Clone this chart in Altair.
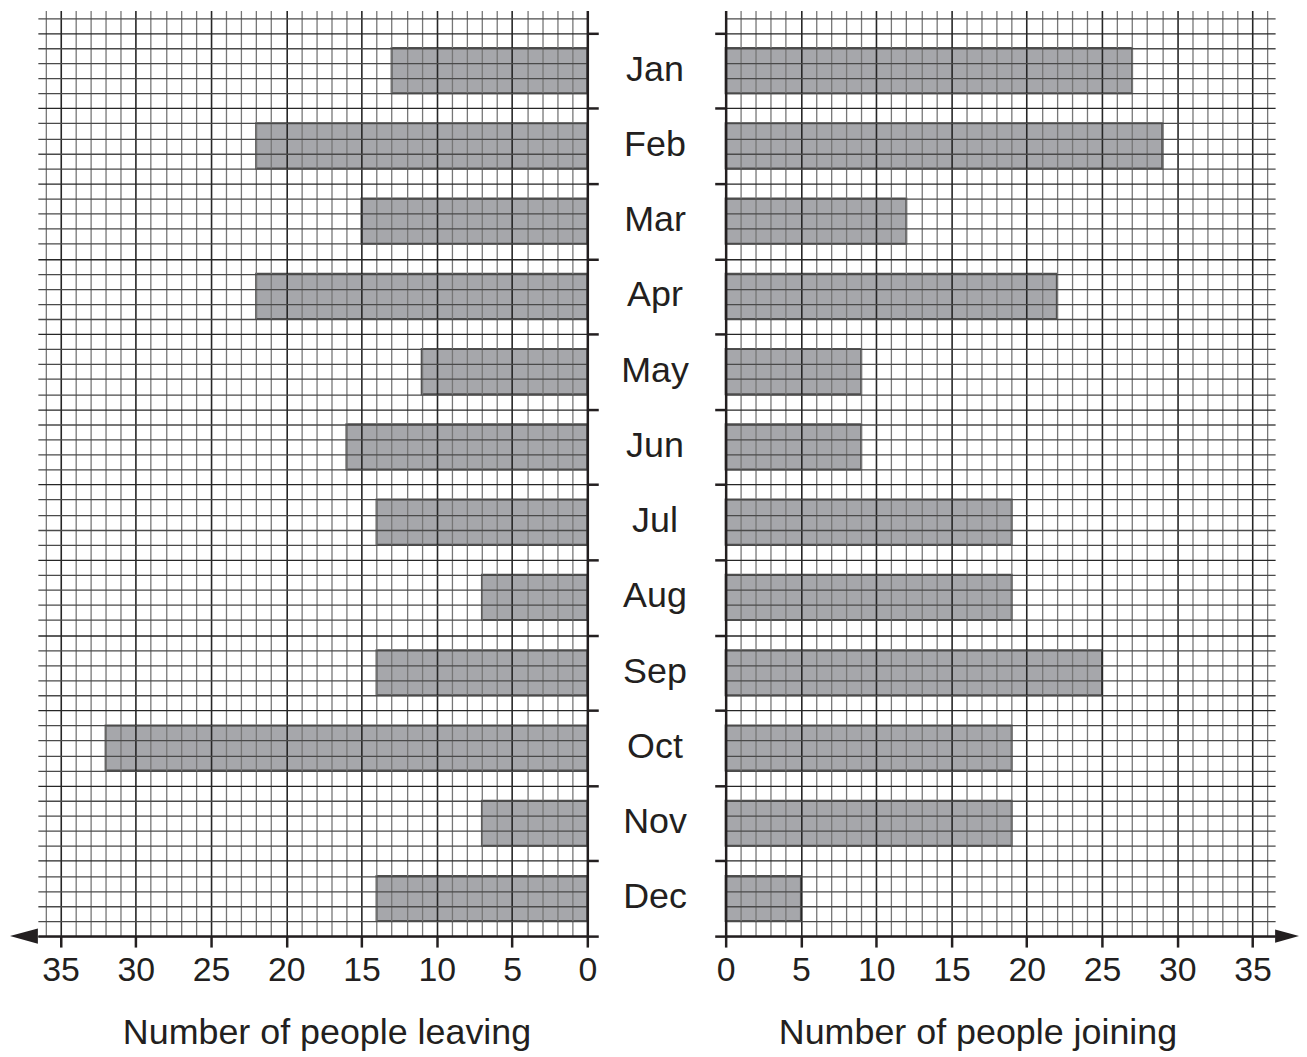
import altair as alt
import pandas as pd

months = ["Jan", "Feb", "Mar", "Apr", "May", "Jun", "Jul", "Aug", "Sep", "Oct", "Nov", "Dec"]
leaving = [13, 22, 15, 22, 11, 16, 14, 7, 14, 32, 7, 14]
joining = [27, 29, 12, 22, 9, 9, 19, 19, 25, 19, 19, 5]
x_ticks = [0, 5, 10, 15, 20, 25, 30, 35]

FONT = "Liberation Sans"
TXT = "#231f20"
W, H = 552, 930
X_MAX = 36.5
SUB = 5  # grid sub-rows per month

df = pd.DataFrame({
    "month": months,
    "idx": list(range(len(months))),
    "leaving": leaving,
    "joining": joining,
})

y_scale = alt.Scale(domain=[-1.5, SUB * len(months)], reverse=True, nice=False, zero=False)
x_grid_vals = list(range(0, 37))
y_grid_vals = list(range(-1, SUB * len(months) + 1))

is5 = "datum.value % 5 === 0"


def x_axis(title, title_x):
    return alt.Axis(
        values=x_grid_vals,
        grid=True,
        gridColor={"condition": {"test": is5, "value": "#262626"}, "value": "#767676"},
        gridWidth={"condition": {"test": is5, "value": 1.6}, "value": 1.3},
        tickSize={"condition": {"test": is5, "value": 11}, "value": 0},
        tickColor="#231f20",
        tickWidth=2.5,
        labelExpr="datum.value % 5 === 0 ? datum.label : ''",
        labelFont=FONT,
        labelFontSize=34,
        labelColor=TXT,
        labelPadding=7,
        labelOverlap=False,
        labelFlush=False,
        domainColor="#231f20",
        domainWidth=2.5,
        title=title,
        titleFont=FONT,
        titleFontSize=36,
        titleFontWeight="normal",
        titleColor=TXT,
        titleX=title_x,
        titleY=108,
        titleAlign="center",
        titleBaseline="alphabetic",
        zindex=1,
    )


def y_axis(orient):
    return alt.Axis(
        orient=orient,
        values=y_grid_vals,
        grid=True,
        gridColor={"condition": {"test": is5, "value": "#262626"}, "value": "#4a4a4a"},
        gridWidth=1.3,
        tickSize={"condition": {"test": is5, "value": 11}, "value": 0},
        tickColor="#231f20",
        tickWidth=2.5,
        labels=False,
        domainColor="#231f20",
        domainWidth=2.5,
        title=None,
        minExtent=0,
        zindex=1,
    )


base = alt.Chart(df).transform_calculate(
    y0=f"{SUB} * datum.idx + 1",
    y1=f"{SUB} * datum.idx + 4",
    yc=f"{SUB} * datum.idx + 2.5",
)

left_bars = base.mark_rect(fill="#a6a7ab", stroke="#505050", strokeWidth=2).encode(
    x=alt.X("leaving:Q", scale=alt.Scale(domain=[0, X_MAX], reverse=True, nice=False),
            axis=x_axis("Number of people leaving", 290)),
    x2=alt.datum(0),
    y=alt.Y("y0:Q", scale=y_scale, axis=y_axis("right")),
    y2="y1:Q",
)

labels = base.mark_text(font=FONT, fontSize=36, color=TXT, align="center", baseline="middle", dy=-1).encode(
    x=alt.value(620),
    y=alt.Y("yc:Q", scale=y_scale, axis=y_axis("right")),
    text="month:N",
)

one = pd.DataFrame({"k": [0]})
left_arrow = alt.Chart(one).mark_point(
    shape="M-1,0L1,-0.55L1,0.55Z", filled=True, size=784, color="#231f20", opacity=1, strokeWidth=0
).encode(x=alt.value(-14), y=alt.value(H))

right_arrow = alt.Chart(one).mark_point(
    shape="M1,0L-1,-0.55L-1,0.55Z", filled=True, size=576, color="#231f20", opacity=1, strokeWidth=0
).encode(x=alt.value(W + 12), y=alt.value(H))

left = alt.layer(left_bars, labels, left_arrow).properties(width=W, height=H)

right_bars = base.mark_rect(fill="#a6a7ab", stroke="#505050", strokeWidth=2).encode(
    x=alt.X("joining:Q", scale=alt.Scale(domain=[0, X_MAX], nice=False),
            axis=x_axis("Number of people joining", 253)),
    x2=alt.datum(0),
    y=alt.Y("y0:Q", scale=y_scale, axis=y_axis("left")),
    y2="y1:Q",
)

right = alt.layer(right_bars, right_arrow).properties(width=W, height=H)

chart = alt.hconcat(left, right, spacing=139, bounds="flush").properties(
    padding={"left": 2, "top": 0, "right": 0, "bottom": 0},
    background="white",
).configure_view(stroke=None)

chart.save("out.html", embed_options={"renderer": "svg", "actions": False})
